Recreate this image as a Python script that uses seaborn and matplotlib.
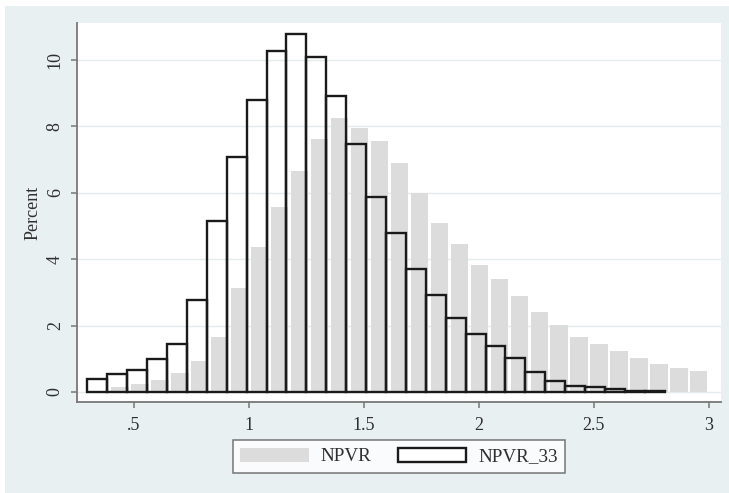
import numpy as np
import pandas as pd
import matplotlib
matplotlib.use("Agg")
import matplotlib.pyplot as plt
from matplotlib.patches import Patch, Rectangle
import seaborn as sns

# Percent of observations per bin
npvr_pct = [0.16, 0.24, 0.36, 0.56, 0.94, 1.65, 3.12, 4.38, 5.58, 6.64,
            7.61, 8.24, 7.94, 7.56, 6.89, 5.98, 5.08, 4.45, 3.83, 3.39,
            2.90, 2.42, 2.02, 1.65, 1.45, 1.23, 1.03, 0.84, 0.73, 0.63]
npvr33_pct = [0.38, 0.53, 0.66, 1.00, 1.45, 2.77, 5.16, 7.07, 8.80, 10.26,
              10.79, 10.10, 8.90, 7.46, 5.86, 4.80, 3.70, 2.92, 2.22, 1.74,
              1.38, 1.01, 0.59, 0.34, 0.19, 0.15, 0.09, 0.04, 0.02]

# Bin layout (start, width) of each histogram
npvr_start, npvr_width = 0.397, 0.0868
npvr33_start, npvr33_width = 0.2985, 0.08657

x_ticks = [0.5, 1.0, 1.5, 2.0, 2.5, 3.0]
x_ticklabels = [".5", "1", "1.5", "2", "2.5", "3"]
y_ticks = [0, 2, 4, 6, 8, 10]
y_ticklabels = ["0", "2", "4", "6", "8", "10"]


def bins_frame(start, width, pct):
    edges = start + width * np.arange(len(pct) + 1)
    centers = (edges[:-1] + edges[1:]) / 2
    return pd.DataFrame({"value": centers, "pct": pct}), [float(e) for e in edges]


df_npvr, edges_npvr = bins_frame(npvr_start, npvr_width, npvr_pct)
df_33, edges_33 = bins_frame(npvr33_start, npvr33_width, npvr33_pct)

sns.set_theme(style="white")
plt.rcParams["font.family"] = ["Liberation Serif", "DejaVu Serif"]

W, H = 729, 493
fig = plt.figure(figsize=(W / 100, H / 100), dpi=100, facecolor="white")
bg = "#e9f0f2"
fig.patches.append(Rectangle((5 / W, 0), 1, 1 - 6 / H, transform=fig.transFigure,
                             facecolor=bg, edgecolor="none", zorder=-10))

ax = fig.add_axes([77 / W, 1 - 402 / H, (721 - 77) / W, (402 - 23) / H])
ax.set_facecolor("white")

# Light horizontal grid at the labelled values
for yv in y_ticks:
    ax.axhline(yv, color="#e4ecef", lw=1.0, zorder=0)

sns.histplot(data=df_npvr, x="value", weights="pct", bins=edges_npvr,
             stat="count", color="#dcdcdc", alpha=1, linewidth=0,
             shrink=0.865, ax=ax, zorder=2)
sns.histplot(data=df_33, x="value", weights="pct", bins=edges_33,
             stat="count", fill=False, color="#1a1a1a", linewidth=1.7,
             ax=ax, zorder=3)

ax.set_xlim(0.2533, 3.054)
ax.set_ylim(-0.30, 11.11)

axis_col = "#777777"
txt_col = "#2e2e2e"
for side in ["top", "right"]:
    ax.spines[side].set_visible(False)
for side in ["left", "bottom"]:
    ax.spines[side].set_color(axis_col)
    ax.spines[side].set_linewidth(1.3)

ax.set_xticks(x_ticks)
ax.set_xticklabels(x_ticklabels)
ax.set_yticks(y_ticks)
ax.set_yticklabels(y_ticklabels, rotation=90, va="center")
ax.tick_params(axis="both", which="major", direction="out", length=4.5,
               width=1.1, color=axis_col, labelsize=13, labelcolor=txt_col,
               left=True, bottom=True)
ax.tick_params(axis="x", pad=6)
ax.tick_params(axis="y", pad=5)

ax.set_xlabel("")
ax.set_ylabel("Percent", fontsize=13, color=txt_col, va="center")
ax.yaxis.set_label_coords((33 - 77) / (721 - 77), 0.5)

handles = [Patch(facecolor="#dcdcdc", edgecolor="none", label="NPVR"),
           Patch(facecolor="white", edgecolor="#1a1a1a", linewidth=1.7, label="NPVR_33")]
leg = fig.legend(handles=handles, loc="center", ncol=2,
                 bbox_to_anchor=(399 / W, 1 - 456.5 / H),
                 frameon=True, fancybox=False, fontsize=13.8,
                 handlelength=3.55, handleheight=0.78, handletextpad=0.62,
                 columnspacing=1.4, borderpad=0.4, borderaxespad=0)
leg.get_frame().set_edgecolor("#555555")
leg.get_frame().set_linewidth(1.1)
leg.get_frame().set_facecolor("white")
for t in leg.get_texts():
    t.set_color(txt_col)

fig.savefig("out.png", dpi=100, facecolor=fig.get_facecolor())
